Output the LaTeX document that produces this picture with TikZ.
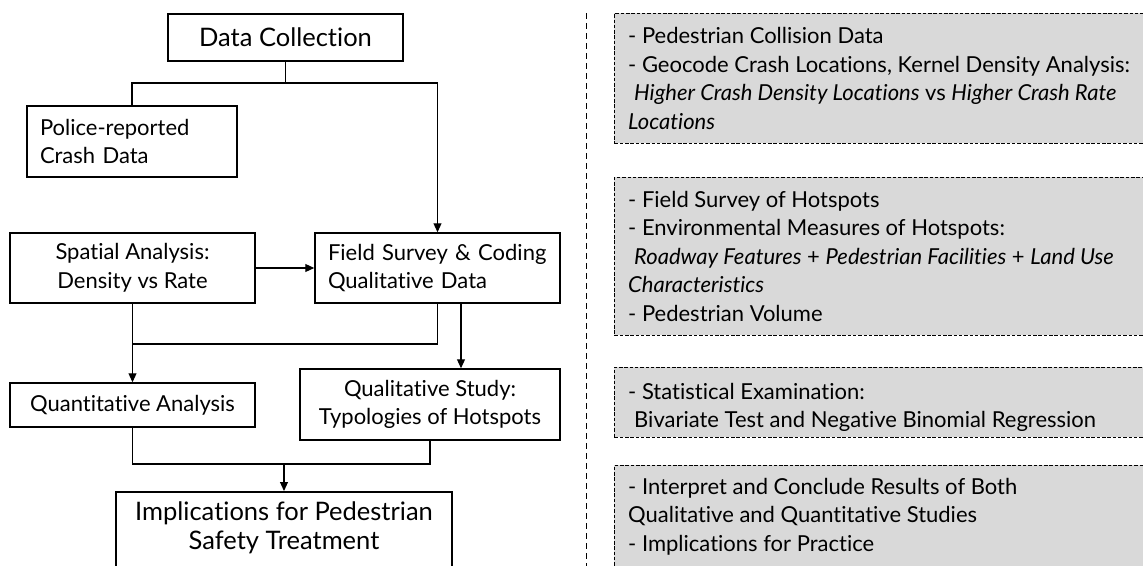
\documentclass[tikz,border=0pt]{standalone}
\usepackage{fontspec}
\setmainfont[Ligatures={NoCommon}]{Lato}
\usetikzlibrary{arrows.meta}
\begin{document}
\begin{tikzpicture}[x=1pt,y=-1pt,
  box/.style={draw=black,line width=1.5pt,inner sep=0pt,align=center,font=\fontsize{22}{28.5}\selectfont},
  lbox/.style={box,align=left},
  gbox/.style={draw=black,fill=gray!30,line width=0.9pt,dash pattern=on 3.5pt off 1.8pt,inner sep=0pt,anchor=north west},
  gtext/.style={anchor=west,align=left,inner sep=0pt,font=\fontsize{22}{28.5}\selectfont},
  conn/.style={line width=1.1pt},
  arr/.style={conn,-{Triangle[length=9pt,width=8pt]}},
  vline/.style={line width=1pt,dash pattern=on 6pt off 4pt}]
\useasboundingbox (0,0) rectangle (1143,565);

% left flow
\node[box,minimum width=235,minimum height=47,font=\fontsize{25.5}{28}\selectfont] (dc) at (285.5,37.5) {Data Collection};
\node[lbox,minimum width=210,minimum height=71,text width=184] (police) at (132,141.5) {Police-reported\\Crash Data};
\node[box,minimum width=245,minimum height=70] (spatial) at (132.5,268) {Spatial Analysis:\\Density vs Rate};
\node[lbox,minimum width=245,minimum height=70,text width=219] (field) at (437.5,268) {Field Survey \& Coding\\Qualitative Data};
\node[box,minimum width=245,minimum height=44] (quant) at (132.5,405) {Quantitative Analysis};
\node[box,minimum width=260,minimum height=71] (qual) at (430,404.5) {Qualitative Study:\\Typologies of Hotspots};
\node[box,minimum width=336,minimum height=110,anchor=north] (impl) at (284,491) {};
\node[align=center,inner sep=0pt,font=\fontsize{25.5}{29}\selectfont] (implt) at (284,528) {Implications for Pedestrian\\Safety Treatment};

\coordinate (j1) at (285.5,83);
\draw[conn] (dc.south) -- (j1);
\draw[conn] (j1) -| (police.north);
\draw[arr] (j1) -| (field.north);
\draw[arr] (spatial.east) -- (field.west);
\draw[arr] (spatial.south) -- (quant.north);
\coordinate (j2) at (132.5,344);
\draw[conn] (field.south) |- (j2);
\coordinate (f2) at (461,303);
\draw[arr] (f2) -- (f2 |- qual.north);
\coordinate (j3) at (284,464);
\draw[conn] (quant.south) |- (j3);
\draw[conn] (qual.south) |- (j3);
\draw[arr] (j3) -- (impl.north);

% divider
\coordinate (v1) at (586,13);
\coordinate (v2) at (586,570);
\draw[vline] (v1) -- (v2);

% right boxes
\node[gbox,minimum width=560,minimum height=130] (r1) at (614,13) {};
\node[gtext] (r1t) at ([xshift=14pt]r1.west) {- Pedestrian Collision Data\\- Geocode Crash Locations, Kernel Density Analysis:\\\hspace*{6pt}\textit{Higher Crash Density Locations} vs \textit{Higher Crash Rate}\\\textit{Locations}};
\node[gbox,minimum width=560,minimum height=158] (r2) at (614,177) {};
\node[gtext] (r2t) at ([xshift=14pt]r2.west) {- Field Survey of Hotspots\\- Environmental Measures of Hotspots:\\\hspace*{6pt}\textit{Roadway Features} + \textit{Pedestrian Facilities} + \textit{Land Use}\\\textit{Characteristics}\\- Pedestrian Volume};
\node[gbox,minimum width=560,minimum height=70] (r3) at (614,367) {};
\node[gtext] (r3t) at ([xshift=14pt,yshift=-5pt]r3.west) {- Statistical Examination:\\\hspace*{6pt}Bivariate Test and Negative Binomial Regression};
\node[gbox,minimum width=560,minimum height=140] (r4) at (614,465) {};
\node[gtext,anchor=north west] (r4t) at (628,478) {- Interpret and Conclude Results of Both\\Qualitative and Quantitative Studies\\- Implications for Practice};
\end{tikzpicture}
\end{document}
